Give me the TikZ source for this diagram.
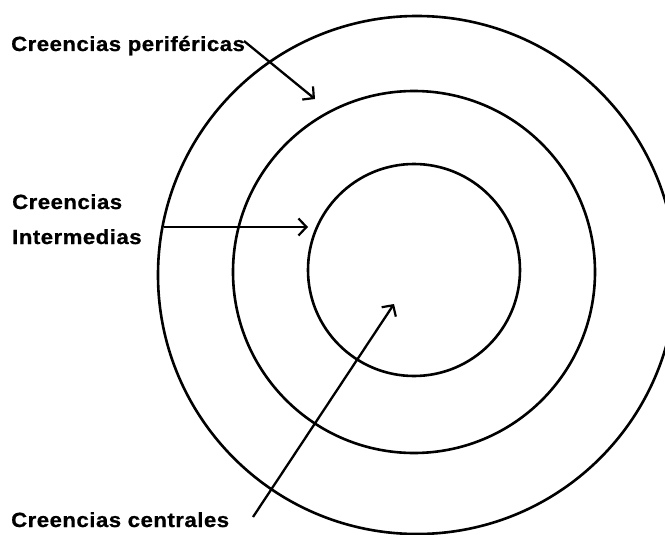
\documentclass[tikz,border=0pt]{standalone}
\usepackage{fontspec}
\newfontfamily\lbl{Liberation Sans}[LetterSpace=2.5,FakeStretch=1.08,BoldFeatures={FakeBold=0.8}]
\usetikzlibrary{arrows.meta}
\begin{document}
\begin{tikzpicture}[x=1pt,y=-1pt,
  ring/.style={draw=black,line width=2.6pt},
  label/.style={font=\lbl\bfseries\fontsize{20.5pt}{22pt}\selectfont,anchor=base west,inner sep=0pt,text=black},
  pointer/.style={draw=black,line width=2.3pt,-{Straight Barb[length=8pt,width=17pt,line width=2.2pt]}}]
\useasboundingbox (0,0) rectangle (665,535);
\clip (0,0) rectangle (665,535);
\fill[white] (0,0) rectangle (665,535);
% rings
\draw[ring] (417,275) circle[radius=259];
\draw[ring] (414,272) circle[radius=181];
\draw[ring] (414,270) circle[radius=106];
% labels
\node[label] (per) at (11,51) {Creencias periféricas};
\node[label] (int1) at (12,209) {Creencias};
\node[label] (int2) at (12,244) {Intermedias};
\node[label] (cen) at (11,527) {Creencias centrales};
% arrow ends
\coordinate (perS) at (244,41);
\coordinate (perT) at (315,99);
\coordinate (intS) at (164,227);
\coordinate (intT) at (308,227);
\coordinate (cenS) at (253,517);
\coordinate (cenT) at (394,304);
\draw[pointer] (perS) -- (perT);
\draw[pointer] (intS) -- (intT);
\draw[pointer] (cenS) -- (cenT);
\end{tikzpicture}
\end{document}
